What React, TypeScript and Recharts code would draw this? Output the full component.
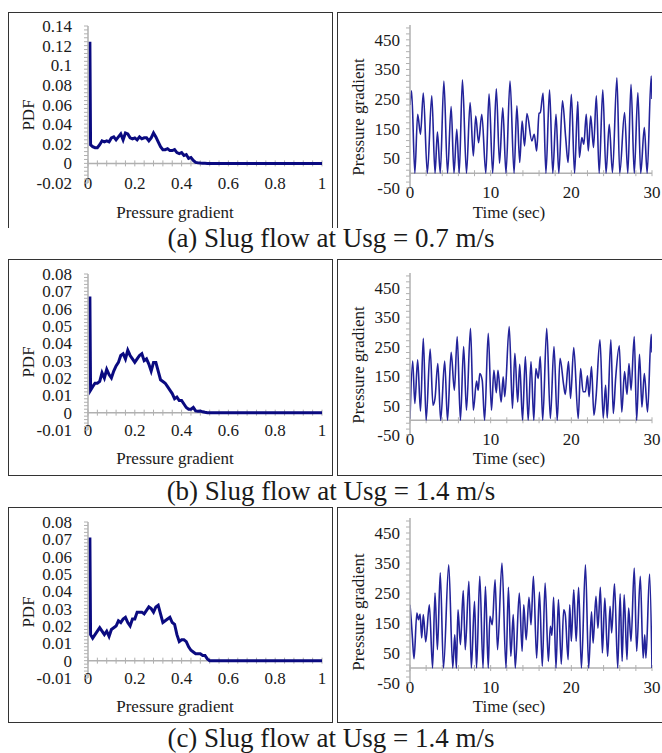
import { LineChart, Line, XAxis, YAxis, ReferenceLine } from "recharts";

const FONT = "Liberation Serif, Times New Roman, serif";
const AXIS = "#b0b0b0";
const TEXT = "#1a1a1a";

// pressure gradient bins (normalised) used by all three PDF plots
const pgBins = [
  0.008, 0.011, 0.02, 0.03, 0.04, 0.05, 0.06, 0.07, 0.08, 0.09, 0.1,
  0.11, 0.12, 0.13, 0.14, 0.15, 0.16, 0.17, 0.18, 0.19, 0.2,
  0.21, 0.22, 0.23, 0.24, 0.25, 0.26, 0.27, 0.28, 0.29, 0.3,
  0.31, 0.32, 0.33, 0.34, 0.35, 0.36, 0.37, 0.38, 0.39, 0.4,
  0.41, 0.42, 0.43, 0.44, 0.45, 0.46, 0.47, 0.48, 0.49, 0.5,
  0.51, 0.52, 1,
];

const pdfA = [
  0.124, 0.019, 0.017, 0.016, 0.016, 0.019, 0.023, 0.022, 0.023, 0.022, 0.026,
  0.027, 0.024, 0.027, 0.03, 0.024, 0.031, 0.03, 0.026, 0.025, 0.026,
  0.024, 0.027, 0.025, 0.026, 0.026, 0.023, 0.026, 0.031, 0.027, 0.022,
  0.017, 0.014, 0.014, 0.015, 0.013, 0.013, 0.014, 0.011, 0.01, 0.011,
  0.008, 0.009, 0.005, 0.006, 0.003, 0.001, 0.0005, 0.0003, 0.0002, 0.0001,
  0, 0, 0,
];

const pdfB = [
  0.067, 0.013, 0.015, 0.017, 0.017, 0.018, 0.023, 0.02, 0.025, 0.022, 0.02,
  0.024, 0.027, 0.029, 0.033, 0.034, 0.031, 0.036, 0.033, 0.031, 0.029,
  0.031, 0.033, 0.034, 0.03, 0.031, 0.028, 0.024, 0.029, 0.029, 0.024,
  0.019, 0.018, 0.017, 0.015, 0.013, 0.011, 0.008, 0.009, 0.007, 0.007,
  0.005, 0.003, 0.002, 0.002, 0.003, 0.001, 0.0008, 0.001, 0.0005, 0.0002,
  0, 0, 0,
];

const pdfC = [
  0.071, 0.015, 0.013, 0.015, 0.017, 0.019, 0.017, 0.015, 0.017, 0.014, 0.018,
  0.019, 0.02, 0.023, 0.022, 0.024, 0.025, 0.022, 0.02, 0.024, 0.024,
  0.028, 0.028, 0.028, 0.027, 0.029, 0.031, 0.03, 0.028, 0.031, 0.032,
  0.027, 0.022, 0.023, 0.024, 0.025, 0.022, 0.021, 0.015, 0.011, 0.012,
  0.012, 0.011, 0.008, 0.006, 0.005, 0.004, 0.004, 0.004, 0.003, 0.003,
  0.001, 0, 0,
];

// time traces (peaks and troughs)
const timeA = [
  0, 0.2, 0.6, 0.95, 1.3, 1.65, 2.15, 2.7, 3.1, 3.4, 3.75, 4.2, 4.65, 5.1, 5.45,
  5.8, 6.1, 6.5, 7.0, 7.45, 7.85, 8.15, 8.5, 8.9, 9.4, 9.8, 10.25, 10.7, 11.1,
  11.5, 11.9, 12.4, 12.9, 13.25, 13.6, 13.9, 14.2, 14.5, 15.1, 15.4, 15.7, 16.0,
  16.15, 16.5, 16.85, 17.3, 17.7, 18.1, 18.45, 18.9, 19.3, 19.6, 20.0, 20.4,
  20.8, 21.0, 21.3, 21.55, 21.85, 22.1, 22.4, 22.75, 23.1, 23.45, 23.9, 24.3,
  24.7, 25.1, 25.65, 26.0, 26.6, 27.0, 27.4, 27.8, 28.25, 28.6, 29.05, 29.4,
  29.9, 30,
];
const pressA = [
  230, 278, 0, 199, 131, 270, 0, 261, 0, 139, 0, 311, 0, 225, 0,
  148, 0, 315, 0, 238, 58, 193, 103, 199, 0, 268, 0, 285, 34,
  221, 0, 311, 0, 227, 36, 176, 92, 201, 109, 131, 75, 202,
  204, 270, 0, 281, 0, 199, 0, 244, 120, 36, 266, 0,
  242, 53, 120, 98, 199, 75, 193, 87, 261, 0, 281, 0,
  165, 2, 322, 0, 205, 0, 300, 0, 272, 0, 154, 0,
  328, 250,
];

const timeB = [
  0, 0.33, 0.6, 0.95, 1.3, 1.65, 2.0, 2.5, 2.85, 3.1, 3.45, 3.8, 4.3, 4.65,
  5.1, 5.5, 5.85, 6.25, 6.65, 7.0, 7.5, 7.85, 8.25, 8.45, 8.65, 8.95, 9.25,
  9.7, 10.1, 10.4, 10.7, 10.9, 11.3, 11.55, 11.75, 12.3, 12.7, 13.0, 13.35,
  13.6, 13.95, 14.3, 14.65, 15.0, 15.35, 15.6, 15.9, 16.15, 16.45, 16.95,
  17.4, 17.85, 18.25, 18.6, 19.05, 19.25, 19.65, 19.9, 20.3, 20.85, 21.15,
  21.45, 21.75, 22.0, 22.2, 22.5, 22.8, 23.05, 23.55, 23.95, 24.25, 24.45,
  24.9, 25.2, 25.5, 25.95, 26.25, 26.6, 26.9, 27.15, 27.4, 27.8, 28.1, 28.45,
  28.75, 29.05, 29.45, 29.9, 30,
];
const pressB = [
  5, 201, 57, 205, 31, 278, 0, 242, 51, 74, 193, 0, 201, 0,
  231, 102, 284, 0, 250, 34, 312, 34, 133, 102, 159, 136, 0,
  295, 34, 170, 94, 170, 62, 148, 80, 318, 40, 227, 62,
  190, 0, 216, 0, 199, 0, 176, 142, 216, 0, 312,
  6, 250, 0, 210, 119, 88, 199, 74, 247, 6, 176,
  97, 97, 151, 80, 182, 17, 74, 273, 8, 119, 8,
  273, 23, 145, 253, 28, 165, 88, 193, 102, 284, 0, 224,
  45, 159, 28, 292, 230,
];

const timeC = [
  0, 0.15, 0.3, 0.5, 0.85, 1.05, 1.25, 1.45, 1.65, 1.95, 2.4, 2.8, 3.1, 3.4,
  3.75, 4.15, 4.8, 5.3, 5.55, 5.75, 5.95, 6.25, 6.6, 6.85, 7.3, 7.6, 8.0, 8.25,
  8.65, 9.05, 9.35, 9.7, 9.9, 10.2, 10.55, 10.85, 11.4, 11.9, 12.2, 12.5, 12.8,
  13.05, 13.55, 13.9, 14.1, 14.4, 14.75, 15.0, 15.3, 15.7, 16.05, 16.4, 16.75,
  17.15, 17.4, 17.6, 17.8, 18.1, 18.4, 18.75, 19.05, 19.25, 19.6, 19.8, 20.0,
  20.3, 20.6, 20.9, 21.25, 21.75, 22.15, 22.5, 22.7, 23.05, 23.3, 23.6, 23.85,
  24.15, 24.5, 24.8, 25.0, 25.35, 25.75, 26.05, 26.3, 26.55, 26.9, 27.1, 27.4,
  27.8, 28.1, 28.55, 28.9, 29.1, 29.25, 29.7, 30,
];
const pressC = [
  211, 161, 100, 31, 183, 161, 180, 100, 178, 87, 211, 0, 250, 61,
  317, 0, 344, 0, 111, 0, 194, 78, 258, 61, 289, 0, 222, 0,
  306, 0, 272, 0, 172, 144, 294, 61, 350, 0, 269, 39, 178,
  0, 250, 56, 211, 94, 236, 144, 306, 33, 253, 6, 283,
  22, 139, 109, 236, 0, 228, 13, 194, 178, 28, 211, 89,
  261, 89, 269, 0, 344, 0, 187, 83, 239, 133, 269, 50,
  233, 39, 206, 117, 281, 0, 247, 22, 244, 28, 200, 89,
  333, 56, 306, 33, 111, 33, 313, 0,
];

const pgTicks = [0, 0.2, 0.4, 0.6, 0.8, 1];
const pdfTicksA = [-0.02, 0, 0.02, 0.04, 0.06, 0.08, 0.1, 0.12, 0.14];
const pdfTicksBC = [-0.01, 0, 0.01, 0.02, 0.03, 0.04, 0.05, 0.06, 0.07, 0.08];
const timeTicks = [0, 10, 20, 30];
const pressTicks = [-50, 50, 150, 250, 350, 450];

const captions = [
  "(a) Slug flow at Usg = 0.7 m/s",
  "(b) Slug flow at Usg = 1.4 m/s",
  "(c) Slug flow at Usg = 1.4 m/s",
];

const fmt = (v: number) => String(parseFloat(v.toFixed(4)));

// minor ticks: each major step cut in 5, like excel does
const minors = (majors: number[], max: number) => {
  const step = (majors[1] - majors[0]) / 5;
  const out: number[] = [];
  for (let i = 0; majors[0] + i * step <= max + step * 1e-6; i++) {
    out.push(parseFloat((majors[0] + i * step).toFixed(6)));
  }
  return out;
};

const toData = (xs: number[], ys: number[]) => xs.map((x, i) => ({ x, y: ys[i] }));

const svgText = { fontFamily: FONT, fontSize: 17, fill: TEXT };

type PanelProps = {
  left: number;
  top: number;
  width: number;
  height: number;
  plotTop: number;
  plotBottom: number;
  yAxisWidth: number;
  marginRight: number;
  data: { x: number; y: number }[];
  xDomain: [number, number];
  yDomain: [number, number];
  xMajors: number[];
  yMajors: number[];
  labelGap: number;
  xLabelDy: number;
  stroke: string;
  strokeWidth: number;
  curve: "linear" | "monotone";
};

function Panel(p: PanelProps) {
  const mTop = p.plotTop - p.top;
  const plotH = p.plotBottom - p.plotTop;
  const xH = p.height - mTop - plotH;
  const half = ((p.yDomain[1] - p.yDomain[0]) * 3) / plotH;
  const yMinor = minors(p.yMajors, p.yDomain[1] - 1e-9);
  const xMinor = minors(p.xMajors, p.xDomain[1]);
  const isMajor = (v: number) => p.yMajors.some((m) => Math.abs(m - v) < 1e-7);

  return (
    <div style={{ position: "absolute", left: p.left, top: p.top, fontFamily: FONT }}>
      <LineChart
        width={p.width}
        height={p.height}
        data={p.data}
        style={{ fontFamily: FONT }}
        margin={{ top: mTop, right: p.marginRight, left: 0, bottom: 0 }}
      >
        <XAxis
          dataKey="x"
          type="number"
          domain={p.xDomain}
          ticks={p.xMajors}
          interval={0}
          height={xH}
          axisLine={false}
          tickLine={false}
          tickSize={0}
          tickMargin={0}
          allowDataOverflow
          tick={(t: any) => (
            <text
              x={t.x}
              y={t.y}
              dy={p.xLabelDy}
              textAnchor="middle"
              style={svgText}
              fontFamily={FONT}
            >
              {fmt(t.payload.value)}
            </text>
          )}
        />
        <YAxis
          type="number"
          domain={p.yDomain}
          ticks={yMinor}
          interval={0}
          width={p.yAxisWidth}
          axisLine={{ stroke: AXIS, strokeWidth: 1.5 }}
          tickLine={false}
          tickSize={0}
          tickMargin={0}
          allowDataOverflow
          tick={(t: any) => (
            <g>
              <line x1={t.x - 4} x2={t.x} y1={t.y} y2={t.y} stroke={AXIS} />
              {isMajor(t.payload.value) && (
                <text
                  x={t.x - p.labelGap}
                  y={t.y}
                  dy={6}
                  textAnchor="end"
                  style={svgText}
                  fontFamily={FONT}
                >
                  {fmt(t.payload.value)}
                </text>
              )}
            </g>
          )}
        />
        <ReferenceLine y={0} stroke={AXIS} strokeWidth={1.5} />
        {xMinor.map((v) => (
          <ReferenceLine
            key={v}
            segment={[
              { x: v, y: -half },
              { x: v, y: half },
            ]}
            stroke={AXIS}
          />
        ))}
        <Line
          dataKey="y"
          type={p.curve}
          stroke={p.stroke}
          strokeWidth={p.strokeWidth}
          dot={false}
          activeDot={false}
          isAnimationActive={false}
        />
      </LineChart>
    </div>
  );
}

const rows = [
  {
    top: 12, height: 216, noBottom: true,
    pdf: pdfA, pdfTicks: pdfTicksA, pdfDomain: [-0.02, 0.14] as [number, number],
    lPlot: [26, 183], rPlot: [25, 188],
    time: timeA, press: pressA,
    pdfTitleY: 115, xTitleY: 212, rTitleY: 117, caption: 238,
  },
  {
    top: 259, height: 217, noBottom: false,
    pdf: pdfB, pdfTicks: pdfTicksBC, pdfDomain: [-0.01, 0.08] as [number, number],
    lPlot: [274, 430], rPlot: [273, 435],
    time: timeB, press: pressB,
    pdfTitleY: 362, xTitleY: 458, rTitleY: 365, caption: 491,
  },
  {
    top: 507, height: 216, noBottom: false,
    pdf: pdfC, pdfTicks: pdfTicksBC, pdfDomain: [-0.01, 0.08] as [number, number],
    lPlot: [522, 678], rPlot: [518, 683],
    time: timeC, press: pressC,
    pdfTitleY: 612, xTitleY: 706, rTitleY: 612, caption: 738,
  },
];

const textStyle = {
  position: "absolute" as const,
  fontFamily: FONT,
  fontSize: 17,
  color: TEXT,
  whiteSpace: "nowrap" as const,
  lineHeight: 1,
};

export default function App() {
  return (
    <div
      style={{
        position: "absolute",
        left: 0,
        top: 0,
        width: 662,
        height: 753,
        overflow: "hidden",
        background: "#fff",
      }}
    >
      {rows.map((r, i) => (
        <div key={i}>
          {/* panel frames */}
          <div
            style={{
              position: "absolute",
              left: 8,
              top: r.top,
              width: 325,
              height: r.height,
              boxSizing: "border-box",
              border: "1.5px solid #333",
              borderBottom: r.noBottom ? "none" : "1.5px solid #333",
            }}
          />
          <div
            style={{
              position: "absolute",
              left: 337,
              top: r.top,
              width: 340,
              height: r.height,
              boxSizing: "border-box",
              border: "1.5px solid #333",
              borderBottom: r.noBottom ? "none" : "1.5px solid #333",
            }}
          />
          <Panel
            left={8}
            top={r.top}
            width={325}
            height={r.height}
            plotTop={r.lPlot[0]}
            plotBottom={r.lPlot[1]}
            yAxisWidth={80}
            marginRight={11}
            data={toData(pgBins, r.pdf)}
            xDomain={[0, 1]}
            yDomain={r.pdfDomain}
            xMajors={pgTicks}
            yMajors={r.pdfTicks}
            labelGap={16}
            xLabelDy={6}
            stroke="#0a0a80"
            strokeWidth={3}
            curve="linear"
          />
          <Panel
            left={338}
            top={r.top}
            width={324}
            height={r.height}
            plotTop={r.rPlot[0]}
            plotBottom={r.rPlot[1]}
            yAxisWidth={72}
            marginRight={10}
            data={toData(r.time, r.press)}
            xDomain={[0, 30]}
            yDomain={[-50, 500]}
            xMajors={timeTicks}
            yMajors={pressTicks}
            labelGap={10}
            xLabelDy={10}
            stroke="#23239a"
            strokeWidth={1.6}
            curve="monotone"
          />
          <div
            style={{
              ...textStyle,
              left: 28,
              top: r.pdfTitleY,
              transform: "translate(-50%, -50%) rotate(-90deg)",
            }}
          >
            PDF
          </div>
          <div style={{ ...textStyle, left: 175, top: r.xTitleY, transform: "translate(-50%, -50%)" }}>
            Pressure gradient
          </div>
          <div
            style={{
              ...textStyle,
              left: 358,
              top: r.rTitleY,
              transform: "translate(-50%, -50%) rotate(-90deg)",
            }}
          >
            Pressure gradient
          </div>
          <div style={{ ...textStyle, left: 509, top: r.xTitleY, transform: "translate(-50%, -50%)" }}>
            Time (sec)
          </div>
          <div
            style={{
              ...textStyle,
              left: 0,
              width: 662,
              textAlign: "center",
              fontSize: 27,
              top: r.caption - 13,
            }}
          >
            {captions[i]}
          </div>
        </div>
      ))}
    </div>
  );
}
